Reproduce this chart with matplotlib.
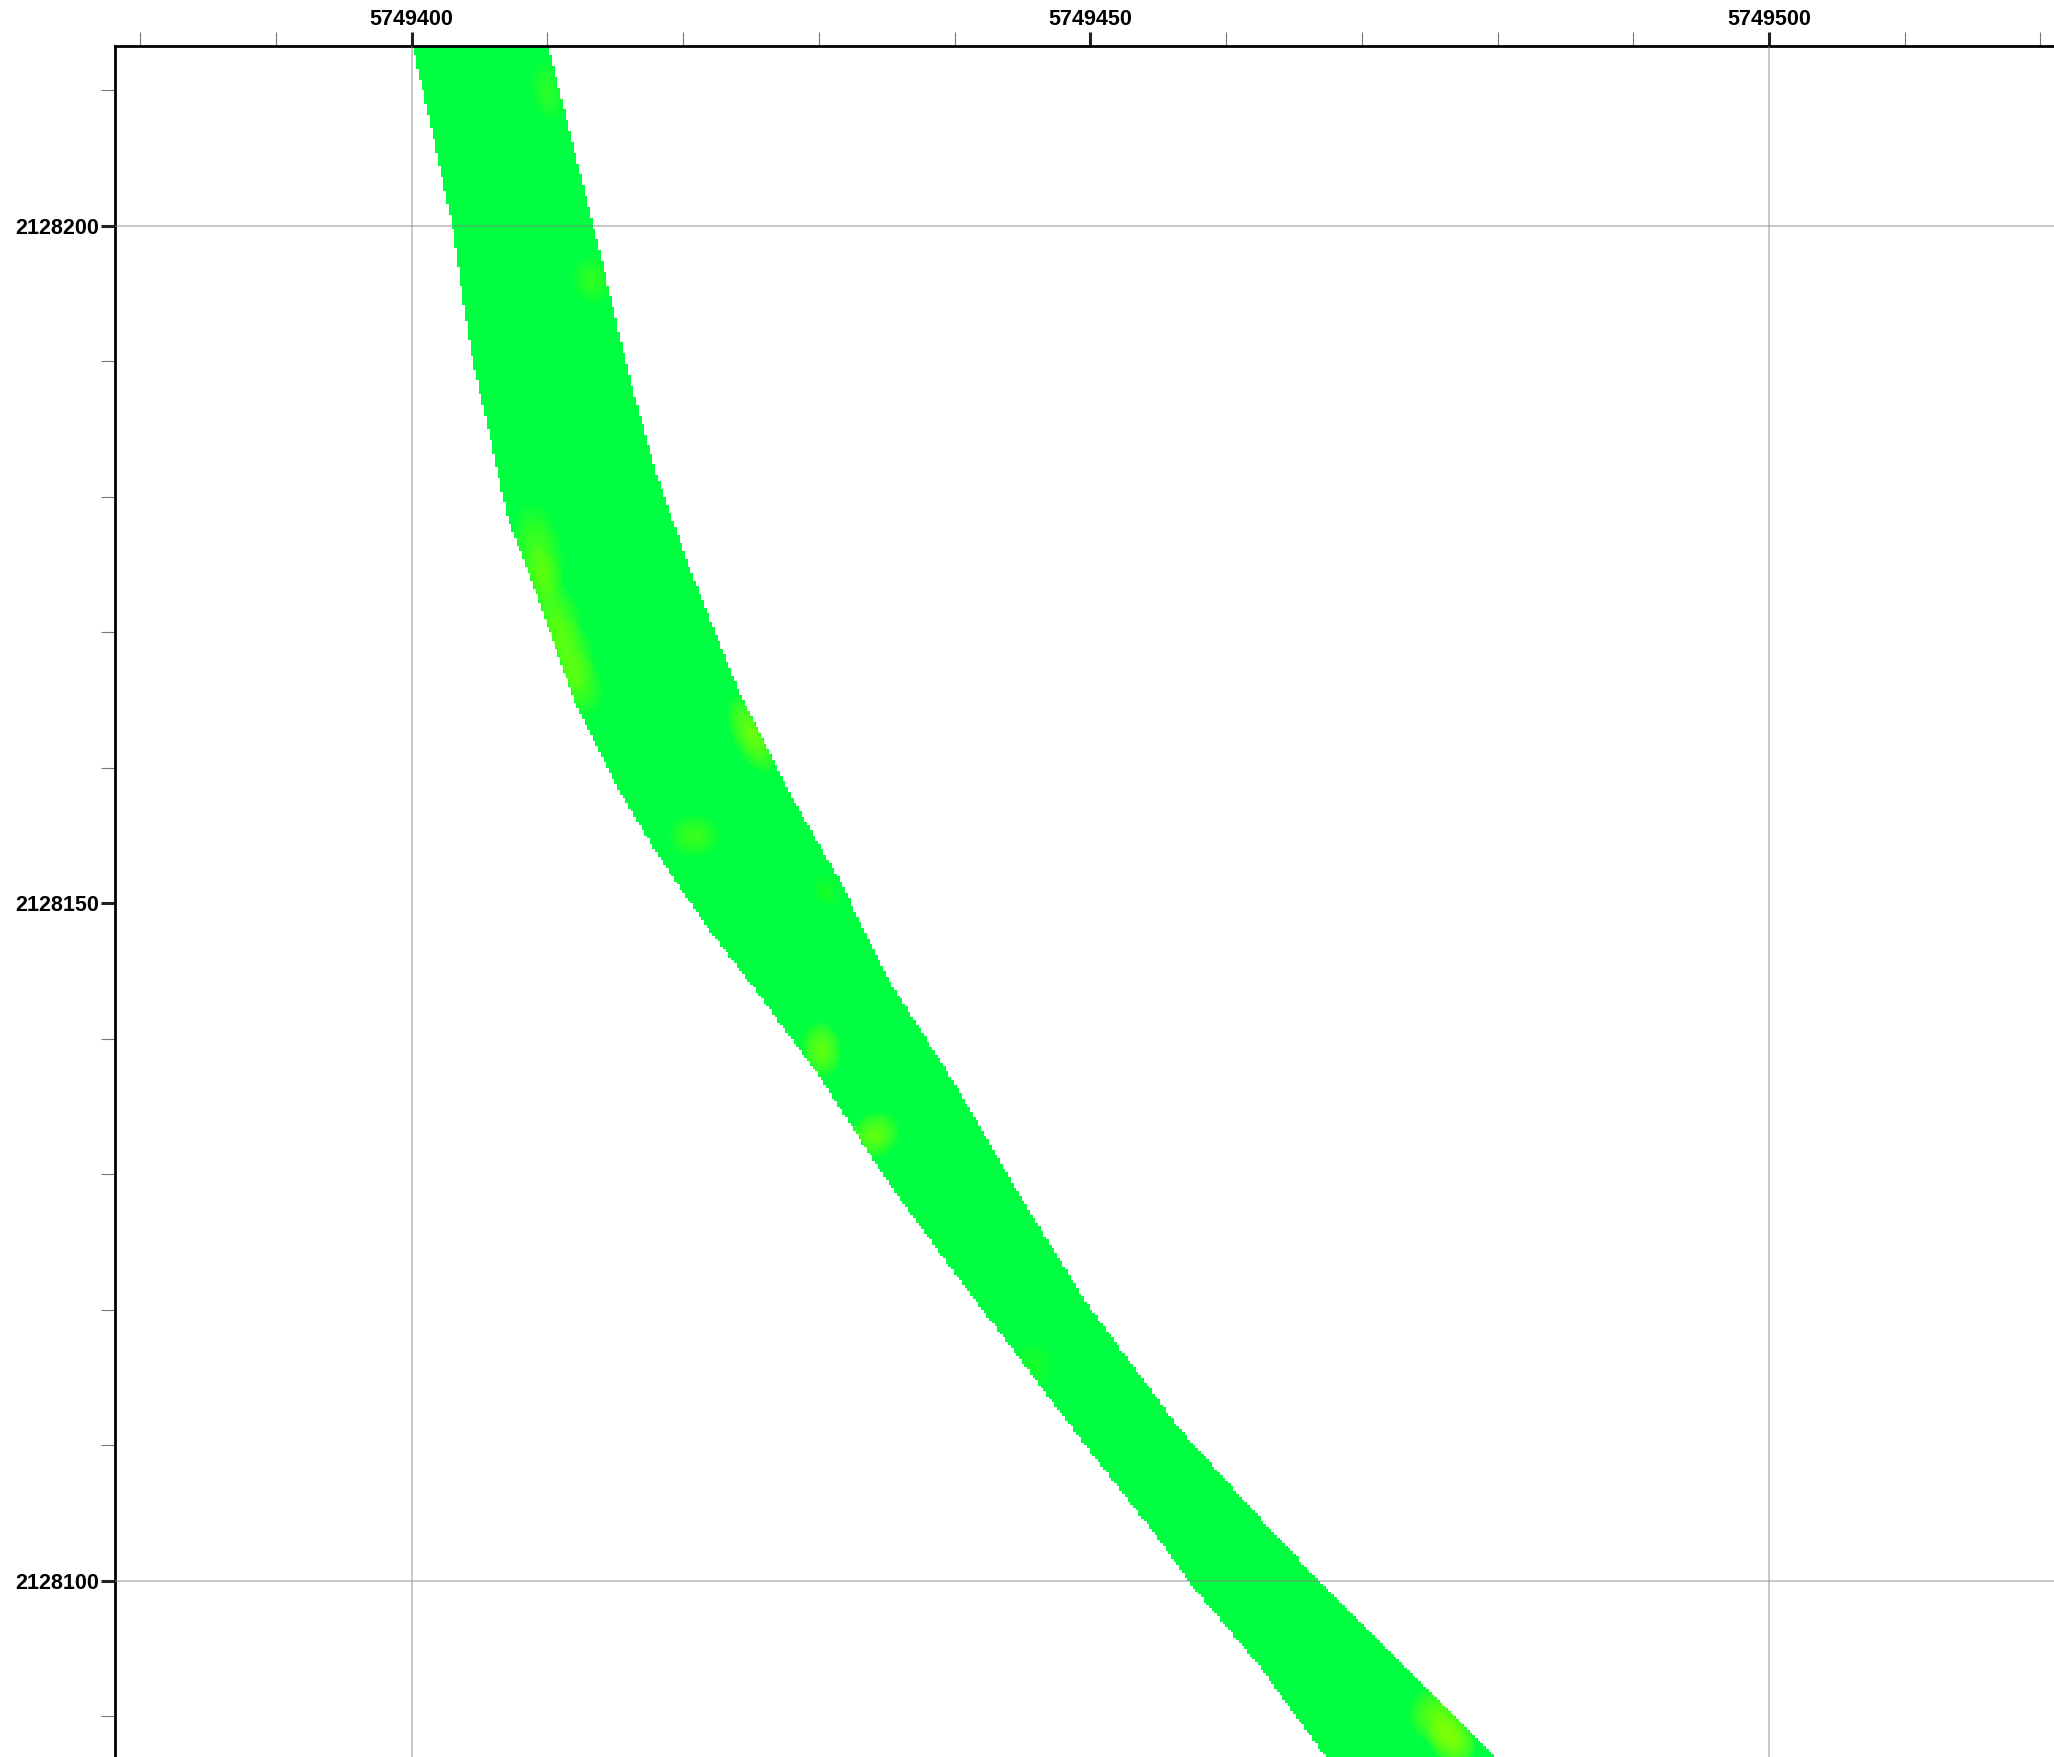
import matplotlib
matplotlib.use("Agg")
import matplotlib.pyplot as plt
import numpy as np
from matplotlib.patches import Ellipse, Polygon

plt.rcParams["font.family"] = ["Liberation Sans", "DejaVu Sans"]

# ribbon edges (offsets added below)
X0 = 5749000
Y0 = 2128000
left_x = [400.1, 401.5, 403.0, 404.4, 405.6, 407.1, 409.1, 412.2, 415.1, 418.0, 421.8,
          425.7, 430.0, 435.3, 439.2, 445.0, 449.8, 455.1, 457.5, 462.4, 467.4]
left_y = [213.2, 207.0, 200.0, 190.5, 185.2, 178.4, 173.1, 164.4, 158.6, 153.8, 148.2,
          143.1, 137.3, 129.1, 123.8, 116.1, 109.8, 103.0, 99.6, 93.8, 86.9]
right_x = [410.1, 411.9, 413.6, 416.0, 418.0, 420.4, 424.2, 427.6, 431.5, 435.3,
           440.2, 445.0, 449.8, 456.6, 461.8, 467.2, 472.6, 479.9]
right_y = [213.2, 206.0, 199.2, 189.1, 181.8, 175.0, 165.4, 158.6, 151.8, 144.1,
           136.4, 128.1, 120.4, 111.2, 105.4, 99.6, 94.3, 86.9]

# brighter patches: x, y, width, height, angle, strength
spot_x = [409.3, 409.7, 410.5, 411.4, 412.2, 425.1, 420.8, 430.2, 434.1, 475.6, 476.6, 413.3, 410.0, 430.5, 445.9]
spot_y = [176.0, 174.1, 171.2, 168.6, 166.3, 162.5, 155.0, 139.2, 132.9, 90.0, 88.3, 196.0, 209.9, 150.9, 116.1]
spot_w = [2.4, 2.0, 2.6, 2.6, 2.4, 2.0, 2.6, 2.0, 2.6, 2.8, 2.2, 2.0, 1.6, 1.4, 1.8]
spot_h = [4.8, 3.0, 3.8, 3.8, 3.4, 4.2, 2.2, 2.8, 2.2, 3.0, 2.8, 2.4, 3.2, 1.8, 2.4]
spot_a = [10, 10, 20, 20, 20, 25, 0, 5, 30, 40, 40, 10, 10, 20, 30]
spot_s = [0.45, 0.45, 0.55, 0.6, 0.5, 0.8, 0.4, 0.7, 0.7, 0.7, 1.1, 0.35, 0.25, 0.15, 0.15]

major_x = [5749400, 5749450, 5749500]
major_y = [2128100, 2128150, 2128200]
grid_x = [5749400, 5749500]
grid_y = [2128100, 2128200]
minor_x = [5749380, 5749390, 5749410, 5749420, 5749430, 5749440, 5749460, 5749470,
           5749480, 5749490, 5749510, 5749520]
minor_y = [2128090, 2128110, 2128120, 2128130, 2128140, 2128160, 2128170, 2128180,
           2128190, 2128210]

XMIN, XMAX = 5749378.14, 5749521.0
YMIN, YMAX = 2128087.0, 2128213.28
GREEN = "#00ff40"

fig = plt.figure(figsize=(20.54, 17.57), dpi=100)
ax = fig.add_axes([115 / 2054, 0, 1 - 115 / 2054, 1 - 46 / 1757])

# ribbon as a coarse raster so the edge stays stepped like the source grid
cell = 0.2
xs = np.arange(XMIN, XMAX, cell)
ys = np.arange(YMIN, YMAX, cell)
gx, gy = np.meshgrid(xs + cell / 2, ys + cell / 2)
lx = X0 + np.array(left_x)
ly = Y0 + np.array(left_y)
rx = X0 + np.array(right_x)
ry = Y0 + np.array(right_y)
inside = (gx >= np.interp(gy, ly[::-1], lx[::-1])) & (gx <= np.interp(gy, ry[::-1], rx[::-1]))
rgba = np.zeros(gx.shape + (4,))
rgba[inside] = matplotlib.colors.to_rgba(GREEN)
ax.imshow(rgba, extent=[XMIN, xs[-1] + cell, YMIN, ys[-1] + cell], origin="lower",
          interpolation="nearest", aspect="auto", zorder=1)

outline = Polygon(np.vstack([np.column_stack([lx, ly]), np.column_stack([rx, ry])[::-1]]),
                  transform=ax.transData, fill=False, edgecolor="none")
ax.add_patch(outline)

# soft glow: stacked translucent ellipses
for x, y, w, h, a, s in zip(spot_x, spot_y, spot_w, spot_h, spot_a, spot_s):
    for k in np.linspace(1.5, 0.1, 24):
        e = Ellipse((X0 + x, Y0 + y), w * k, h * k, angle=a, facecolor="#a0ff00",
                    edgecolor="none", alpha=0.06 * s, zorder=2)
        ax.add_patch(e)
        e.set_clip_path(outline)

ax.set_xlim(XMIN, XMAX)
ax.set_ylim(YMIN, YMAX)
ax.set_xticks(major_x)
ax.set_yticks(major_y)
ax.set_xticks(minor_x, minor=True)
ax.set_yticks(minor_y, minor=True)
ax.set_xticklabels([str(v) for v in major_x], fontsize=15.5, fontweight="bold")
ax.set_yticklabels([str(v) for v in major_y], fontsize=15.5, fontweight="bold")
ax.xaxis.tick_top()
ax.tick_params(axis="both", which="major", length=10, width=2.2, color="#222222", pad=1.5)
ax.tick_params(axis="both", which="minor", length=10, width=0.8, color="#777777")

# grid lines only every 100 units
for v in grid_x:
    ax.axvline(v, color="#808080", alpha=0.55, linewidth=1.1, zorder=3)
for v in grid_y:
    ax.axhline(v, color="#808080", alpha=0.55, linewidth=1.1, zorder=3)

ax.spines["right"].set_visible(False)
ax.spines["bottom"].set_visible(False)
ax.spines["left"].set_linewidth(2)
ax.spines["top"].set_linewidth(2)

fig.savefig("out.png", dpi=100)
